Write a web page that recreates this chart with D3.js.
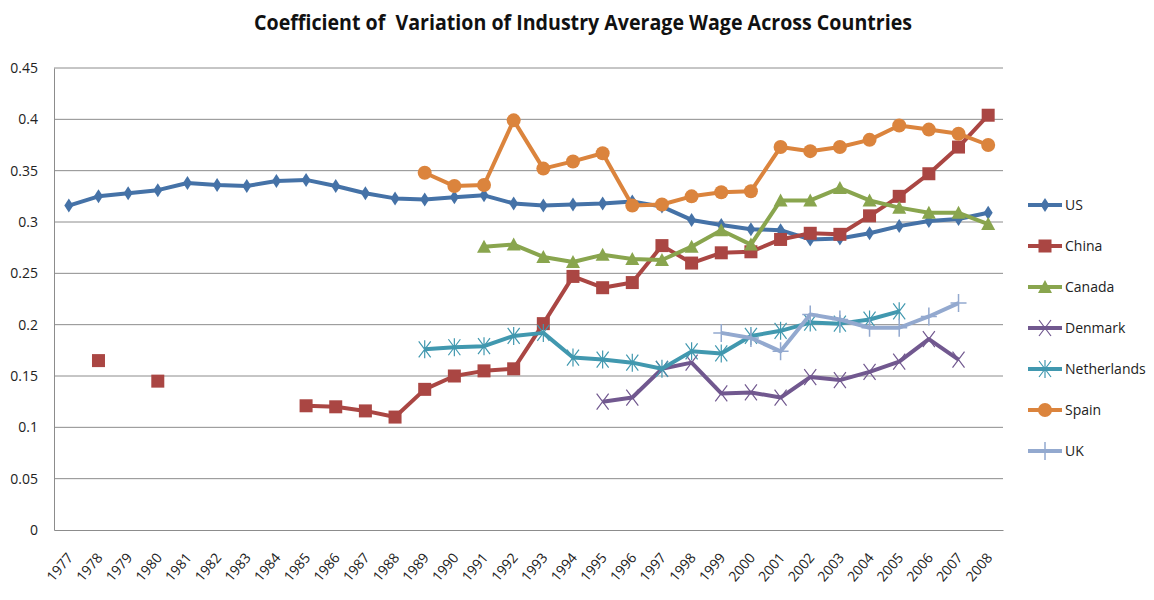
<!DOCTYPE html>
<html>
<head>
<meta charset="utf-8">
<script src="https://cdn.jsdelivr.net/npm/d3@7"></script>
<style>
  body { margin: 0; background: #fff; }
  text { font-family: "Open Sans", "DejaVu Sans", sans-serif; fill: #222; }
</style>
</head>
<body>
<svg id="chart"></svg>
<script>
// chart data
const years = d3.range(1977, 2009);
const yTicks = [0, 0.05, 0.1, 0.15, 0.2, 0.25, 0.3, 0.35, 0.4, 0.45];

const usValues = [0.316, 0.325, 0.328, 0.331, 0.338, 0.336, 0.335, 0.340, 0.341, 0.335, 0.328, 0.323,
  0.322, 0.324, 0.326, 0.318, 0.316, 0.317, 0.318, 0.320, 0.315, 0.302, 0.297, 0.293, 0.292, 0.283,
  0.284, 0.289, 0.296, 0.301, 0.303, 0.309];
const chinaValues = [null, 0.165, null, 0.145, null, null, null, null, 0.121, 0.120, 0.116, 0.110,
  0.137, 0.150, 0.155, 0.157, 0.201, 0.247, 0.236, 0.241, 0.277, 0.260, 0.270, 0.271, 0.283, 0.289,
  0.288, 0.306, 0.325, 0.347, 0.373, 0.404];
const canadaValues = [null, null, null, null, null, null, null, null, null, null, null, null, null, null,
  0.276, 0.278, 0.266, 0.261, 0.268, 0.264, 0.263, 0.276, 0.292, 0.278, 0.321, 0.321, 0.333, 0.321,
  0.314, 0.309, 0.309, 0.298];
const denmarkValues = [null, null, null, null, null, null, null, null, null, null, null, null, null, null,
  null, null, null, null, 0.125, 0.129, 0.157, 0.163, 0.133, 0.134, 0.129, 0.149, 0.146, 0.154,
  0.164, 0.186, 0.166, null];
const netherlandsValues = [null, null, null, null, null, null, null, null, null, null, null, null,
  0.176, 0.178, 0.179, 0.189, 0.192, 0.168, 0.166, 0.163, 0.157, 0.174, 0.172, 0.189, 0.194, 0.202,
  0.201, 0.205, 0.213, null, null, null];
const spainValues = [null, null, null, null, null, null, null, null, null, null, null, null,
  0.348, 0.335, 0.336, 0.399, 0.352, 0.359, 0.367, 0.316, 0.317, 0.325, 0.329, 0.330, 0.373, 0.369,
  0.373, 0.380, 0.394, 0.390, 0.386, 0.375];
const ukValues = [null, null, null, null, null, null, null, null, null, null, null, null, null, null,
  null, null, null, null, null, null, null, null, 0.192, 0.187, 0.174, 0.210, 0.205, 0.197, 0.197,
  0.208, 0.221, null];

const series = [
  { name: 'US', values: usValues, color: '#4572a7', marker: 'diamond' },
  { name: 'China', values: chinaValues, color: '#aa4643', marker: 'square' },
  { name: 'Canada', values: canadaValues, color: '#89a54e', marker: 'triangle' },
  { name: 'Denmark', values: denmarkValues, color: '#71588f', marker: 'x' },
  { name: 'Netherlands', values: netherlandsValues, color: '#4198af', marker: 'star' },
  { name: 'Spain', values: spainValues, color: '#db843d', marker: 'circle' },
  { name: 'UK', values: ukValues, color: '#93a9cf', marker: 'plus' },
];

const width = 1154, height = 600;
const margin = { top: 68, right: 151, bottom: 70, left: 54 };
const innerW = width - margin.left - margin.right;
const innerH = height - margin.top - margin.bottom;

const svg = d3.select('#chart').attr('width', width).attr('height', height);

// title (keeps the double space of the original)
svg.append('text')
  .attr('x', 583).attr('y', 30)
  .attr('text-anchor', 'middle')
  .attr('textLength', 658)
  .attr('lengthAdjust', 'spacingAndGlyphs')
  .style('white-space', 'pre')
  .style('font-size', '21px')
  .style('font-weight', 'bold')
  .style('fill', '#111')
  .text('Coefficient of  Variation of Industry Average Wage Across Countries');

const g = svg.append('g').attr('transform', `translate(${margin.left},${margin.top})`);

const x = d3.scaleBand().domain(years).range([0, innerW]);
const y = d3.scaleLinear().domain([0, 0.45]).range([innerH, 0]);

// horizontal gridlines
g.append('g')
  .selectAll('line')
  .data(yTicks.filter(d => d > 0))
  .join('line')
  .attr('x1', 0).attr('x2', innerW)
  .attr('y1', d => y(d)).attr('y2', d => y(d))
  .attr('stroke', '#8c8c8c').attr('stroke-width', 1);

// y axis
const yAxis = g.append('g')
  .call(d3.axisLeft(y).tickValues(yTicks).tickSize(0).tickPadding(16).tickFormat(d => d3.format('')(+d.toFixed(2))));
yAxis.select('.domain').attr('stroke', '#8c8c8c');
yAxis.selectAll('text').style('font-size', '14px').style('font-family', '"Open Sans", sans-serif');

// x axis
const xAxis = g.append('g')
  .attr('transform', `translate(0,${innerH})`)
  .call(d3.axisBottom(x).tickSize(0).tickPadding(0));
xAxis.select('.domain').attr('stroke', '#8c8c8c');
xAxis.selectAll('text')
  .attr('text-anchor', 'end')
  .attr('dy', null)
  .attr('transform', 'translate(5,28) rotate(-50)')
  .style('font-size', '14px')
  .style('font-family', '"Open Sans", sans-serif');

const cx = d => x(d) + x.bandwidth() / 2;

const line = d3.line()
  .defined(d => d.v != null)
  .x(d => cx(d.year))
  .y(d => y(d.v));

function drawMarker(sel, type, color) {
  if (type === 'diamond') {
    sel.append('path').attr('d', 'M0,-7L4.5,0L0,7L-4.5,0Z').attr('fill', color);
  } else if (type === 'square') {
    sel.append('rect').attr('x', -6.5).attr('y', -6.5).attr('width', 13).attr('height', 13).attr('fill', color);
  } else if (type === 'triangle') {
    sel.append('path').attr('d', 'M0,-7L7,6L-7,6Z').attr('fill', color);
  } else if (type === 'circle') {
    sel.append('circle').attr('r', 7).attr('fill', color);
  } else if (type === 'x') {
    sel.append('path').attr('d', 'M-6,-8L6,8M6,-8L-6,8').attr('stroke', color).attr('stroke-width', 1.2).attr('fill', 'none');
  } else if (type === 'star') {
    sel.append('path').attr('d', 'M-6,-8L6,8M6,-8L-6,8M0,-9V9').attr('stroke', color).attr('stroke-width', 1.2).attr('fill', 'none');
  } else if (type === 'plus') {
    sel.append('path').attr('d', 'M0,-9V9M-8,0H8').attr('stroke', color).attr('stroke-width', 1.5).attr('fill', 'none');
  }
}

series.forEach(s => {
  const pts = years.map((yr, i) => ({ year: yr, v: s.values[i] }));
  g.append('path')
    .datum(pts)
    .attr('fill', 'none')
    .attr('stroke', s.color)
    .attr('stroke-width', 4)
    .attr('stroke-linejoin', 'round')
    .attr('d', line);

  g.append('g')
    .selectAll('g')
    .data(pts.filter(d => d.v != null))
    .join('g')
    .attr('transform', d => `translate(${cx(d.year)},${y(d.v)})`)
    .each(function () { drawMarker(d3.select(this), s.marker, s.color); });
});

// legend
const legend = svg.append('g').attr('transform', 'translate(1028,205)');
const legendItems = legend.selectAll('g')
  .data(series)
  .join('g')
  .attr('transform', (d, i) => `translate(0,${i * 41})`);

legendItems.append('line')
  .attr('x1', 0).attr('x2', 34)
  .attr('stroke', d => d.color).attr('stroke-width', 4);
legendItems.append('g')
  .attr('transform', 'translate(17,0)')
  .each(function (d) { drawMarker(d3.select(this), d.marker, d.color); });
legendItems.append('text')
  .attr('x', 37).attr('dy', '0.35em')
  .style('font-size', '14px')
  .text(d => d.name);
</script>
</body>
</html>
